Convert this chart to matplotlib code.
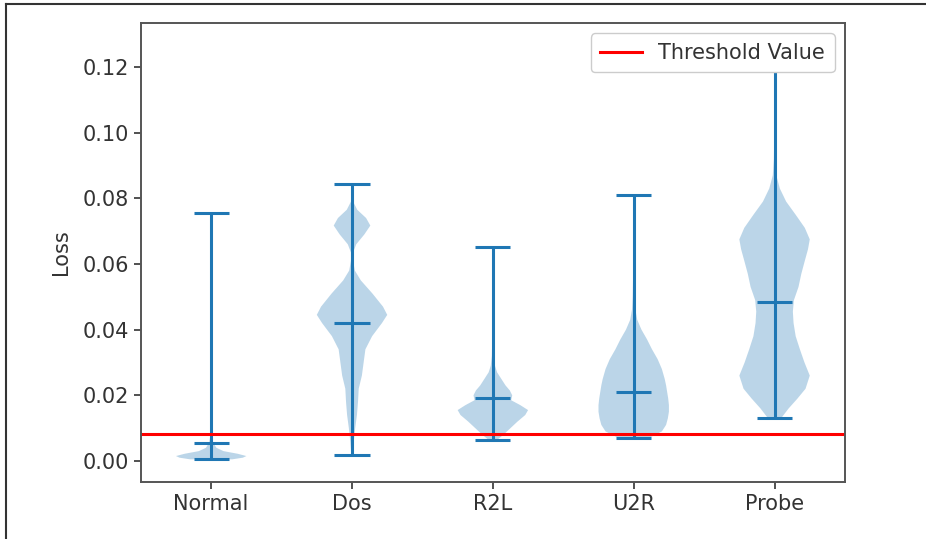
import numpy as np
import matplotlib
matplotlib.use('Agg')
import matplotlib.pyplot as plt
from matplotlib.lines import Line2D

# Категории атак
categories = ['Normal', 'Dos', 'R2L', 'U2R', 'Probe']

# Минимум, среднее и максимум потерь по каждой категории
loss_min = [0.0005, 0.0018, 0.0064, 0.0071, 0.0132]
loss_mean = [0.0056, 0.0421, 0.0191, 0.0211, 0.0483]
loss_max = [0.0755, 0.0844, 0.0651, 0.0811, 0.1270]

# Профили плотности (значение потерь -> относительная ширина)
normal_y = [0.0005, 0.0010, 0.0015, 0.0022, 0.0030, 0.0040, 0.0055, 0.0080, 0.0150, 0.0300, 0.0500, 0.0755]
normal_w = [0.60, 0.90, 1.00, 0.75, 0.35, 0.15, 0.06, 0.02, 0.01, 0.005, 0.003, 0.002]

dos_y = [0.0018, 0.0060, 0.0100, 0.0140, 0.0180, 0.0220, 0.0260, 0.0300, 0.0340, 0.0380, 0.0420, 0.0445,
         0.0470, 0.0510, 0.0550, 0.0580, 0.0610, 0.0635, 0.0660, 0.0690, 0.0717, 0.0740, 0.0765, 0.0790,
         0.0820, 0.0844]
dos_w = [0.02, 0.05, 0.09, 0.14, 0.17, 0.19, 0.28, 0.33, 0.38, 0.57, 0.85, 1.00,
         0.88, 0.58, 0.25, 0.08, 0.03, 0.03, 0.12, 0.35, 0.52, 0.40, 0.15, 0.03,
         0.01, 0.005]

r2l_y = [0.0064, 0.0080, 0.0100, 0.0120, 0.0140, 0.0155, 0.0170, 0.0185, 0.0200, 0.0215, 0.0230,
         0.0250, 0.0270, 0.0290, 0.0320, 0.0360, 0.0400, 0.0450, 0.0500, 0.0550, 0.0600, 0.0651]
r2l_w = [0.12, 0.30, 0.50, 0.70, 0.92, 1.00, 0.78, 0.52, 0.55, 0.48, 0.36,
         0.24, 0.12, 0.06, 0.03, 0.02, 0.015, 0.01, 0.01, 0.01, 0.005, 0.005]

u2r_y = [0.0071, 0.0090, 0.0110, 0.0130, 0.0150, 0.0170, 0.0190, 0.0210, 0.0230, 0.0250, 0.0280, 0.0310,
         0.0340, 0.0370, 0.0400, 0.0430, 0.0460, 0.0500, 0.0550, 0.0600, 0.0650, 0.0700, 0.0750, 0.0811]
u2r_w = [0.45, 0.80, 0.92, 0.97, 1.00, 1.00, 0.98, 0.95, 0.92, 0.88, 0.80, 0.68,
         0.52, 0.38, 0.22, 0.10, 0.05, 0.03, 0.02, 0.015, 0.01, 0.01, 0.005, 0.005]

probe_y = [0.0132, 0.0160, 0.0190, 0.0220, 0.0260, 0.0300, 0.0340, 0.0380, 0.0420, 0.0455, 0.0490,
           0.0530, 0.0570, 0.0610, 0.0645, 0.0675, 0.0710, 0.0750, 0.0790, 0.0830, 0.0870, 0.0920,
           0.0980, 0.1050, 0.1120, 0.1200, 0.1270]
probe_w = [0.20, 0.40, 0.65, 0.88, 1.00, 0.85, 0.72, 0.60, 0.54, 0.52, 0.55,
           0.68, 0.76, 0.86, 0.95, 1.00, 0.86, 0.60, 0.33, 0.15, 0.05, 0.02,
           0.01, 0.01, 0.005, 0.005, 0.003]

profiles_y = [normal_y, dos_y, r2l_y, u2r_y, probe_y]
profiles_w = [normal_w, dos_w, r2l_w, u2r_w, probe_w]

# Пороговое значение
threshold = 0.0082

# Статистика для violin
vpstats = []
for i in range(len(categories)):
    vpstats.append({
        'coords': np.array(profiles_y[i]),
        'vals': np.array(profiles_w[i]),
        'mean': loss_mean[i],
        'median': loss_mean[i],
        'min': loss_min[i],
        'max': loss_max[i],
    })

plt.rcParams['font.family'] = 'DejaVu Sans'
plt.rcParams['font.size'] = 15

fig = plt.figure(figsize=(9.26, 5.39), dpi=100)
ax = fig.add_axes([0.152, 0.1058, 0.7605, 0.8515])

positions = np.arange(1, len(categories) + 1)
parts = ax.violin(vpstats, positions=positions, widths=0.5, showmeans=True, showextrema=True)
for body in parts['bodies']:
    body.set_facecolor('#1f77b4')
    body.set_edgecolor('none')
    body.set_alpha(0.3)
for key in ['cmeans', 'cmins', 'cmaxes', 'cbars']:
    parts[key].set_color('#1f77b4')
    parts[key].set_linewidth(2.2)

ax.axhline(threshold, color='red', linewidth=2.2, label='Threshold Value')

# Настройка графика
ax.set_xticks(positions)
ax.set_xticklabels(categories)
ax.set_xlim(0.5, 5.5)
ax.set_ylim(-0.0064, 0.1334)
ax.set_yticks([0.00, 0.02, 0.04, 0.06, 0.08, 0.10, 0.12])
ax.set_yticklabels(['0.00', '0.02', '0.04', '0.06', '0.08', '0.10', '0.12'])
ax.set_ylabel('Loss', labelpad=8, color='#333333')
ax.tick_params(length=5, width=1.2, colors='#333333', labelcolor='#333333')
for spine in ax.spines.values():
    spine.set_color('#555555')
    spine.set_linewidth(1.4)
leg = ax.legend(loc='upper right', fontsize=15, handlelength=2.0, framealpha=1.0, borderpad=0.45)
leg.get_frame().set_edgecolor('#cccccc')
for t in leg.get_texts():
    t.set_color('#333333')

# Рамка картинки (сверху и слева)
fig.add_artist(Line2D([0.006, 1.0], [0.993, 0.993], color='#333333', linewidth=1.5, transform=fig.transFigure))
fig.add_artist(Line2D([0.006, 0.006], [0.0, 0.993], color='#333333', linewidth=1.5, transform=fig.transFigure))

fig.savefig('out.png', dpi=100)
